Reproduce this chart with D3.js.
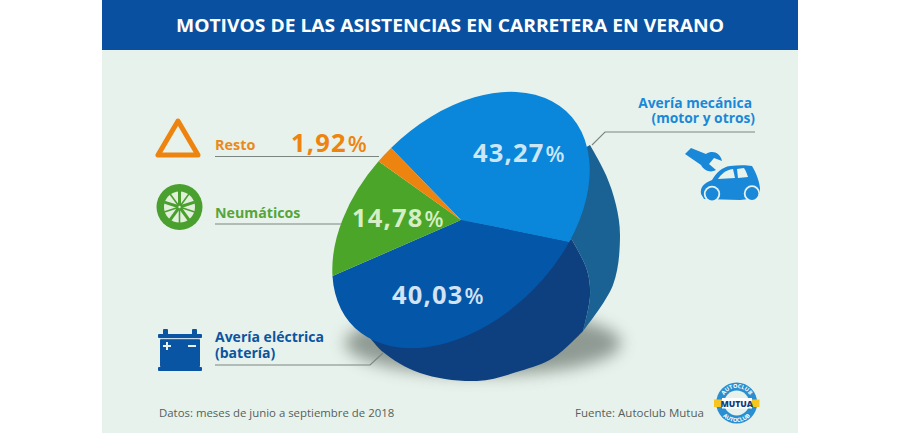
<!DOCTYPE html>
<html><head><meta charset="utf-8">
<script src="https://cdn.jsdelivr.net/npm/d3@7"></script>
<style>html,body{margin:0;padding:0;background:#fff}svg{display:block}text{font-family:"Open Sans",sans-serif}</style>
</head><body><div id="chart"></div>
<script>
const title = "MOTIVOS DE LAS ASISTENCIAS EN CARRETERA EN VERANO";
const categories = ["Avería mecánica", "Avería eléctrica", "Neumáticos", "Resto"];
const values = [43.27, 40.03, 14.78, 1.92];
const sliceColors = ["#0a87da", "#0456a8", "#4aa528", "#ee8410"];
const labelColors = ["#cde6f6", "#d3e3f4", "#d6eec6", "#ee8410"];
const sourceLeft = "Datos: meses de junio a septiembre de 2018";
const sourceRight = "Fuente: Autoclub Mutua";

const W = 900, H = 433;
const svg = d3.select("#chart").append("svg").attr("width", W).attr("height", H);
const defs = svg.append("defs");
defs.append("filter").attr("id","sh").attr("x","-30%").attr("y","-60%").attr("width","160%").attr("height","220%")
  .append("feGaussianBlur").attr("stdDeviation",8);
defs.append("path").attr("id","logoTop").attr("d","M722,403A15,15 0 0 1 752,403");
defs.append("path").attr("id","logoBot").attr("d","M717.5,403A19,19 0 0 0 755.5,403");

// panel and header
svg.append("rect").attr("x",102).attr("y",0).attr("width",696).attr("height",H).attr("fill","#e8f2ec");
svg.append("rect").attr("x",102).attr("y",0).attr("width",696).attr("height",50).attr("fill","#0a50a0");
svg.append("text").attr("x",450).attr("y",31.5).attr("text-anchor","middle").attr("fill","#fff")
  .attr("font-size",18.2).attr("font-weight",700).attr("textLength",548).attr("lengthAdjust","spacingAndGlyphs").text(title);

// pie: shadow + side walls, then top face from d3.pie/d3.arc under a linear tilt
const curve = d3.line().curve(d3.curveCatmullRom.alpha(0.5));
svg.append("ellipse").attr("cx",483).attr("cy",343).attr("rx",138).attr("ry",32)
  .attr("fill","#6f7d74").attr("opacity",.75).attr("filter","url(#sh)");
const seam = [[572,240],[587,270],[590,296],[583,331]];
const rightEdge = [[590,145],[606,175],[616,205],[620,236],[613,285],[583,331]];
const lowerEdge = [[583,331],[553,358],[520,371],[477,381],[420,373],[383,352],[368,335]];
svg.append("path").attr("fill","#1a6293")
  .attr("d", curve(rightEdge) + "L" + curve(seam.slice().reverse()).slice(1) + "L460,220Z");
svg.append("path").attr("fill","#0e3f7e")
  .attr("d", curve(seam) + "L" + curve(lowerEdge).slice(1) + "L460,220Z");

const pieGen = d3.pie().sort(null).startAngle(0).endAngle(2*Math.PI);
const arcGen = d3.arc().innerRadius(0).outerRadius(100);
const arcs = pieGen(values);
svg.append("g").attr("transform","matrix(1.08,-1.06,0.70,0.72,461,220)")
  .selectAll("path").data(arcs).join("path").attr("d",arcGen).attr("fill",(d,i)=>sliceColors[i]);

// value labels
function fmt(v){ return d3.format(".2f")(v).replace(".",","); }
const valuePos = [[473,162],[392,303.5],[352,227],[291,152]];
const vt = svg.append("g").selectAll("text").data(values).join("text")
  .attr("x",(d,i)=>valuePos[i][0]).attr("y",(d,i)=>valuePos[i][1])
  .attr("fill",(d,i)=>labelColors[i]).attr("font-weight",700).attr("font-size",25.5);
vt.append("tspan").attr("letter-spacing",1.2).text(d=>fmt(d));
vt.append("tspan").attr("font-size",22).attr("font-weight",600).attr("dx",1).text("%");

// leader lines
const leaders = [
  [[755,132],[605,132],[592,145]],
  [[215,365],[370,365],[383,353]],
  [[215,224],[342,224]],
  [[215,156.5],[379,156.5]]
];
svg.append("g").selectAll("path").data(leaders).join("path").attr("d",d3.line())
  .attr("fill","none").attr("stroke","#7b8580").attr("stroke-width",1.1);

// category labels
function lab(x,y,t,c,size,anchor){ svg.append("text").attr("x",x).attr("y",y).attr("fill",c)
  .attr("font-size",size).attr("font-weight",700).attr("text-anchor",anchor||"start").text(t); }
lab(752,108,categories[0],"#1a88d8",13.8,"end");
lab(755,123,"(motor y otros)","#1a88d8",13.8,"end");
lab(215,342,categories[1],"#0a55a0",14);
lab(215,358,"(batería)","#0a55a0",14);
lab(215,218,categories[2],"#55a53a",14.2);
lab(215,150,categories[3],"#e88a20",14.4);

// icon: triangle
svg.append("path").attr("d",d3.line()([[178,121],[158,155],[198,155]])+"Z").attr("fill","none")
  .attr("stroke","#ee8410").attr("stroke-width",5).attr("stroke-linejoin","round");

// icon: tyre
const tyre = svg.append("g").attr("transform","translate(179.5,207)");
tyre.append("circle").attr("r",23).attr("fill","#4aa02e");
tyre.append("circle").attr("r",15.5).attr("fill","#e2efdc");
d3.range(10).forEach(i=>{ const a=i*Math.PI/5;
  tyre.append("line").attr("x2",16*Math.sin(a)).attr("y2",-16*Math.cos(a)).attr("stroke","#4aa02e").attr("stroke-width",i%2?1.6:3); });
tyre.append("circle").attr("r",3.2).attr("fill","#4aa02e");
tyre.append("circle").attr("r",1.2).attr("fill","#e2efdc");

// icon: battery
const bat = svg.append("g").attr("fill","#0a55a3");
[[163,329,5,6],[192,329,5,6],[158,334,44,4],[160,339,40,28],[158,367,44,4]].forEach(r=>
  bat.append("rect").attr("x",r[0]).attr("y",r[1]).attr("width",r[2]).attr("height",r[3]).attr("rx",1));
svg.append("rect").attr("x",160).attr("y",338.2).attr("width",40).attr("height",1).attr("fill","#bcd6ea");
[[163,345,8,2],[166,342,2,8],[188,345,8,2]].forEach(r=>
  svg.append("rect").attr("x",r[0]).attr("y",r[1]).attr("width",r[2]).attr("height",r[3]).attr("fill","#e8f2ec"));

// icon: wrench and car
svg.append("path").attr("fill","#1a88d8")
  .attr("d","M685,154L691,148L706,154C712,150 720,152 722,161L714,158L709,164L716,170C711,173 704,171 701,165Z");
svg.append("path").attr("fill","#1a88d8")
  .attr("d","M701,194C700,187 704,183 712,180C716,173 722,167 730,166C738,165 747,165 752,166C755,171 759,179 760,188C760,192 760,196 758,198L740,200L704,199Z");
svg.append("path").attr("fill","#e8f2ec").attr("d","M718,179C721,174 726,170 733,169L735,178Z");
svg.append("path").attr("fill","#e8f2ec").attr("d","M737,169L744,168C746,171 747,174 748,177L738,178Z");
[[712,194],[752,193.5]].forEach(c=>{
  svg.append("circle").attr("cx",c[0]).attr("cy",c[1]).attr("r",8.2).attr("fill","#e8f2ec");
  svg.append("circle").attr("cx",c[0]).attr("cy",c[1]).attr("r",6.4).attr("fill","#1a88d8");
});

// footer
svg.append("text").attr("x",159).attr("y",417).attr("fill","#555f5c").attr("font-size",11.4).text(sourceLeft);
svg.append("text").attr("x",575).attr("y",417).attr("fill","#555f5c").attr("font-size",11.5).text(sourceRight);

// logo
const lg = svg.append("g");
lg.append("circle").attr("cx",736.7).attr("cy",403).attr("r",20.5).attr("fill","#2a8fd0");
lg.append("circle").attr("cx",736.7).attr("cy",403).attr("r",12.5).attr("fill","#e8f2ec");
lg.append("rect").attr("x",714).attr("y",399.5).attr("width",45.5).attr("height",7.5).attr("fill","#f7c520");
lg.append("rect").attr("x",722).attr("y",398).attr("width",30).attr("height",10.5).attr("fill","#fff");
lg.append("text").attr("x",736.7).attr("y",406.5).attr("text-anchor","middle").attr("font-size",8.6).attr("font-weight",800).attr("fill","#0f3f7e").text("MUTUA");
[["logoTop",5.6],["logoBot",5.6]].forEach(p=>{
  lg.append("text").attr("font-size",p[1]).attr("font-weight",700).attr("fill","#fff").attr("text-anchor","middle")
    .append("textPath").attr("href","#"+p[0]).attr("startOffset","50%").text("AUTOCLUB");
});
</script></body></html>
